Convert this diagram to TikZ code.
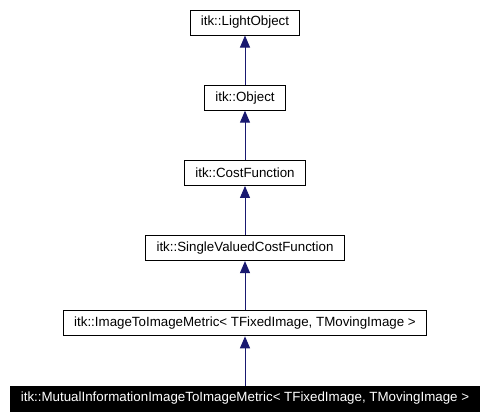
\documentclass[tikz,border=0pt]{standalone}
\usepackage{fontspec}
\setmainfont{Liberation Sans}
\usepackage{tikz}
\usetikzlibrary{arrows.meta, positioning}

\definecolor{edgeblue}{RGB}{25,25,112}

\begin{document}
\begin{tikzpicture}[
    x=0.75pt,
    y=0.75pt,
    node distance=36.9pt,
    every node/.style={
        font=\fontsize{10}{12}\selectfont
    },
    classbox/.style={
        rectangle,
        draw,
        line width=0.75pt,
        inner xsep=8pt,
        inner ysep=0pt,
        minimum height=18.75pt
    },
    current/.style={
        classbox,
        fill=black,
        text=white
    },
    inherit/.style={
        -{Triangle[length=9pt, width=7.5pt]},
        draw=edgeblue,
        line width=0.75pt
    }
]

\useasboundingbox (0,0) rectangle (490,-415);

\node[classbox] (lightobject) at (245,-22.5) {itk::LightObject};

\node[classbox, below=of lightobject] (object) {itk::Object};

\node[classbox, below=of object] (costfunction) {itk::CostFunction};

\node[classbox, below=of costfunction] (singlevalued)
    {itk::SingleValuedCostFunction};

\node[classbox, below=of singlevalued] (imagemetric)
    {itk::ImageToImageMetric< TFixedImage, TMovingImage >};

\node[current, below=of imagemetric] (mutualinfo)
    {itk::MutualInformationImageToImageMetric< TFixedImage, TMovingImage >};

\draw[inherit] (object) -- (lightobject);
\draw[inherit] (costfunction) -- (object);
\draw[inherit] (singlevalued) -- (costfunction);
\draw[inherit] (imagemetric) -- (singlevalued);
\draw[inherit] (mutualinfo) -- (imagemetric);

\end{tikzpicture}
\end{document}
